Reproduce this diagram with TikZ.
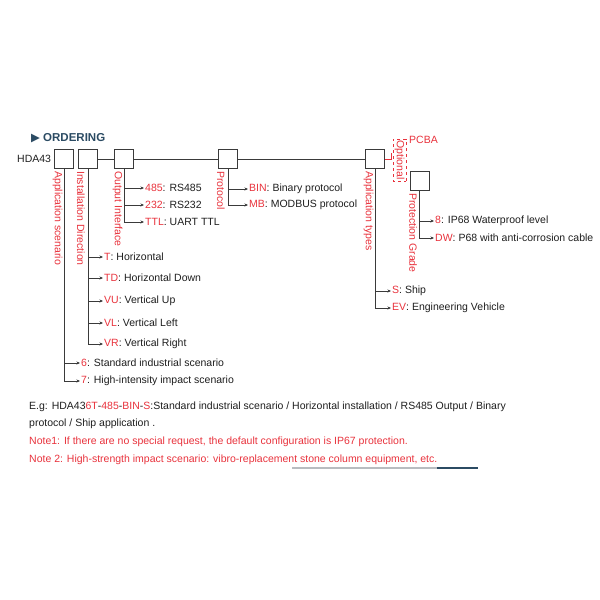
\documentclass[tikz,border=0pt]{standalone}
\usepackage{fontspec}
\setmainfont{Liberation Sans}
\newfontfamily\symfont{DejaVu Sans}
\usetikzlibrary{arrows.meta, positioning}
\usepackage{xcolor}
\definecolor{ink}{HTML}{1E1E1E}
\definecolor{wire}{HTML}{3A3A3A}
\definecolor{hot}{HTML}{E8323C}
\definecolor{head}{HTML}{2B4B63}
\definecolor{rulegray}{HTML}{B8BCC0}
\newcommand{\hl}[1]{\textcolor{hot}{#1}}

\begin{document}
\begin{tikzpicture}[
  x=1pt, y=-1pt,
  bx/.style={draw=wire, line width=0.8pt, minimum width=19pt, minimum height=19pt, inner sep=0pt},
  vlab/.style={rotate=-90, anchor=west, inner sep=0pt, text=hot, font=\fontsize{10.5}{12}\selectfont},
  opt/.style={anchor=west, inner sep=1pt, text=ink, font=\fontsize{10.5}{12}\selectfont},
  note/.style={anchor=west, inner sep=0pt, text=ink, font=\fontsize{10.5}{12}\selectfont},
  arr/.style={-{Stealth[length=3.5pt,width=3pt]}, draw=wire, line width=0.7pt},
  wire/.style={draw=wire, line width=0.8pt}
]
\useasboundingbox (0,0) rectangle (600,600);

% heading and code
\node[anchor=west, inner sep=0pt, text=head, font=\fontsize{11.5}{13}\selectfont\bfseries] (ttl) at (31,138) {{\symfont\fontsize{11.5}{12}\selectfont ▶} ORDERING};
\node[opt] (code) at (16,159) {HDA43};

% boxes
\node[bx] (scn) at (64,159) {};
\node[bx] (dir) at (88,159) {};
\node[bx] (out) at (124,159) {};
\node[bx] (pro) at (228,159) {};
\node[bx] (app) at (375,159) {};
\node[bx] (grd) at (419.5,181) {};

\draw[wire] (dir.east) -- (out.west);
\draw[wire] (out.east) -- (pro.west);
\draw[wire] (pro.east) -- (app.west);

% field names
\node[vlab] (lscn) at (57.5,171) {Application scenario};
\node[vlab] (ldir) at (81,171) {Installation Direction};
\node[vlab] (lout) at (117.5,171) {Output Interface};
\node[vlab] (lpro) at (221,171) {Protocol};
\node[vlab] (lapp) at (368.5,171) {Application types};
\node[vlab] (lgrd) at (413,193) {Protection Grade};

% optional PCBA
\node[rotate=-90, draw=hot, dashed, line width=0.6pt, inner sep=1.5pt, text=hot,
      font=\fontsize{10.5}{12}\selectfont] (optl) at (399.5,160) {Optional};
\draw[draw=hot, line width=0.7pt] (app.east) -- ++(6,0) -- ++(0,-6);
\node[anchor=west, inner sep=1pt, text=hot, font=\fontsize{10.5}{12}\selectfont] (pcba) at (408,140) {PCBA};

% application scenario
\node[opt] (o6) at (80,363) {\hl{6}: Standard industrial scenario};
\node[opt] (o7) at (80,381) {\hl{7}: High-intensity impact scenario};
\draw[arr] (scn.south) |- (o6.west);
\draw[arr] (scn.south) |- (o7.west);

% installation direction
\node[opt] (dt) at (103,257) {\hl{T}: Horizontal};
\node[opt] (dtd) at (103,278) {\hl{TD}: Horizontal Down};
\node[opt] (dvu) at (103,301) {\hl{VU}: Vertical Up};
\node[opt] (dvl) at (103,323) {\hl{VL}: Vertical Left};
\node[opt] (dvr) at (103,344) {\hl{VR}: Vertical Right};
\draw[arr] (dir.south) |- (dt.west);
\draw[arr] (dir.south) |- (dtd.west);
\draw[arr] (dir.south) |- (dvu.west);
\draw[arr] (dir.south) |- (dvl.west);
\draw[arr] (dir.south) |- (dvr.west);

% output interface
\node[opt] (i485) at (144,188) {\hl{485}: RS485};
\node[opt] (i232) at (144,205) {\hl{232}: RS232};
\node[opt] (ittl) at (144,222) {\hl{TTL}: UART TTL};
\draw[arr] (out.south) |- (i485.west);
\draw[arr] (out.south) |- (i232.west);
\draw[arr] (out.south) |- (ittl.west);

% protocol
\node[opt] (pbin) at (248,189) {\hl{BIN}: Binary protocol};
\node[opt] (pmb) at (248,205) {\hl{MB}: MODBUS protocol};
\draw[arr] (pro.south) |- (pbin.west);
\draw[arr] (pro.south) |- (pmb.west);

% application types
\node[opt] (as) at (391,291) {\hl{S}: Ship};
\node[opt] (aev) at (391,308) {\hl{EV}: Engineering Vehicle};
\draw[arr] (app.south) |- (as.west);
\draw[arr] (app.south) |- (aev.west);

% protection grade
\node[opt] (g8) at (434,221) {\hl{8}: IP68 Waterproof level};
\node[opt] (gdw) at (434,238) {\hl{DW}: P68 with anti-corrosion cable};
\draw[arr] (grd.south) |- (g8.west);
\draw[arr] (grd.south) |- (gdw.west);

% notes
\node[note] (eg) at (29,407) {E.g: HDA43\hl{6T}-\hl{485}-\hl{BIN}-\hl{S}:Standard industrial scenario / Horizontal installation / RS485 Output / Binary};
\node[note] (eg2) at (29,424) {protocol / Ship application .};
\node[note, text=hot] (n1) at (29,442) {Note1: If there are no special request, the default configuration is IP67 protection.};
\node[note, text=hot] (n2) at (29,460) {Note 2: High-strength impact scenario: vibro-replacement stone column equipment, etc.};

\coordinate (ra) at (292,468);
\coordinate (rb) at (437,468);
\coordinate (rc) at (478,468);
\draw[draw=rulegray, line width=1.2pt] (ra) -- (rb);
\draw[draw=head, line width=2.5pt] (rb) -- (rc);
\end{tikzpicture}
\end{document}
